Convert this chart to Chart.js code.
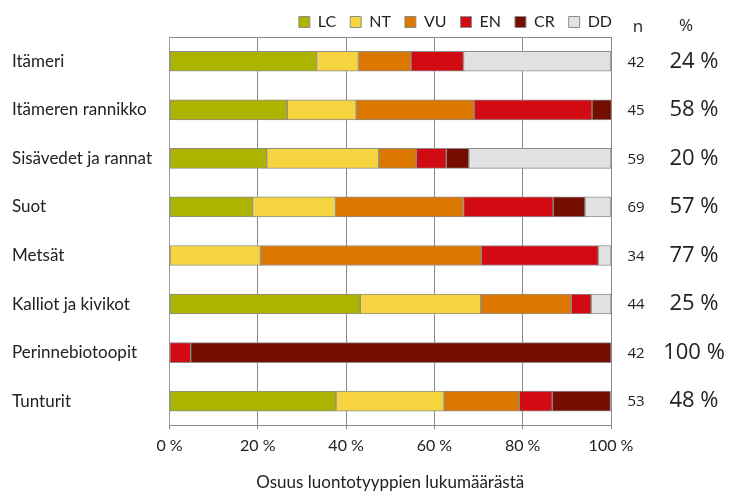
<!DOCTYPE html>
<html>
<head>
<meta charset="utf-8">
<script src="https://cdn.jsdelivr.net/npm/chart.js@4"></script>
<style>
  html, body { margin: 0; padding: 0; background: #fff; }
  #wrap { width: 729px; height: 497px; }
</style>
</head>
<body>
<div id="wrap"><canvas id="chart"></canvas></div>
<script>
// luontotyyppiryhmät
const categories = ['Itämeri', 'Itämeren rannikko', 'Sisävedet ja rannat', 'Suot', 'Metsät', 'Kalliot ja kivikot', 'Perinnebiotoopit', 'Tunturit'];

// osuudet (%) luokittain
const LC = [33.3, 26.7, 22.0, 18.8, 0, 43.2, 0, 37.7];
const NT = [9.5, 15.6, 25.4, 18.8, 20.6, 27.3, 0, 24.5];
const VU = [11.9, 26.7, 8.5, 29.0, 50.0, 20.5, 0, 17.0];
const EN = [11.9, 26.7, 6.8, 20.3, 26.5, 4.5, 4.8, 7.5];
const CR = [0, 4.4, 5.1, 7.2, 0, 0, 95.2, 13.2];
const DD = [33.3, 0, 32.2, 5.8, 2.9, 4.5, 0, 0];

// oikean reunan sarakkeet
const nValues = ['42', '45', '59', '69', '34', '44', '42', '53'];
const threatPct = ['24 %', '58 %', '20 %', '57 %', '77 %', '25 %', '100 %', '48 %'];
const xTicks = [0, 20, 40, 60, 80, 100];

const fontFamily = "Lato, 'DejaVu Sans', sans-serif";

function ds(label, data, color) {
    return {
        label: label,
        data: data,
        backgroundColor: color,
        borderColor: '#8c8c8c',
        borderWidth: 1,
        borderSkipped: false,
        barThickness: 20
    };
}

// n ja % sarakkeet + selitteen siirto oikeaan reunaan
const sideColumns = {
    id: 'sideColumns',
    afterLayout(chart) {
        chart.legend.left += 15;
        chart.legend.right += 15;
    },
    afterDraw(chart) {
        const c = chart.ctx;
        const y = chart.scales.y;
        c.save();
        c.fillStyle = '#222';
        c.textAlign = 'center';
        c.textBaseline = 'middle';
        c.font = "17px 'Open Sans', sans-serif";
        c.fillText('n', 638, 27);
        c.fillText('%', 686, 26);
        categories.forEach((cat, i) => {
            const py = y.getPixelForValue(i);
            c.font = "15px 'Open Sans', sans-serif";
            c.fillText(nValues[i], 636, py + 1);
            c.font = "22px 'Open Sans', sans-serif";
            c.fillText(threatPct[i], 694, py);
        });
        c.restore();
    }
};

new Chart(document.getElementById('chart'), {
    type: 'bar',
    data: {
        labels: categories,
        datasets: [
            ds('LC', LC, '#acb400'),
            ds('NT', NT, '#f6d440'),
            ds('VU', VU, '#dc7700'),
            ds('EN', EN, '#d20a12'),
            ds('CR', CR, '#750e00'),
            ds('DD', DD, '#e2e2e2')
        ]
    },
    options: {
        indexAxis: 'y',
        responsive: true,
        maintainAspectRatio: false,
        animation: false,
        layout: { padding: { left: 12, right: 118, top: 0, bottom: 4 } },
        plugins: {
            legend: {
                position: 'top',
                align: 'end',
                fullSize: false,
                maxHeight: 37,
                labels: {
                    boxWidth: 11,
                    boxHeight: 11,
                    padding: 14,
                    color: '#222',
                    font: { family: fontFamily, size: 16 }
                }
            },
            tooltip: { enabled: false }
        },
        scales: {
            x: {
                stacked: true,
                min: 0,
                max: 100,
                afterBuildTicks: s => { s.ticks = xTicks.map(v => ({ value: v })); },
                ticks: {
                    callback: v => v + ' %',
                    color: '#222',
                    padding: 7,
                    font: { family: fontFamily, size: 16 }
                },
                grid: { color: '#8a8a8a', lineWidth: 1, tickLength: 4 },
                border: { color: '#8a8a8a' },
                title: {
                    display: true,
                    text: 'Osuus luontotyyppien lukumäärästä',
                    color: '#222',
                    padding: { top: 10, bottom: 0 },
                    font: { family: fontFamily, size: 17 }
                }
            },
            xTop: {
                position: 'top',
                min: 0,
                max: 100,
                ticks: { display: false },
                grid: { display: false },
                border: { color: '#8a8a8a' },
                afterFit: s => { s.height = 0; }
            },
            y: {
                stacked: true,
                grid: { display: false },
                border: { color: '#9a9a9a' },
                ticks: {
                    crossAlign: 'far',
                    color: '#222',
                    font: { family: fontFamily, size: 17 }
                },
                afterFit: s => { s.width = 157.5; }
            }
        }
    },
    plugins: [sideColumns]
});
</script>
</body>
</html>
